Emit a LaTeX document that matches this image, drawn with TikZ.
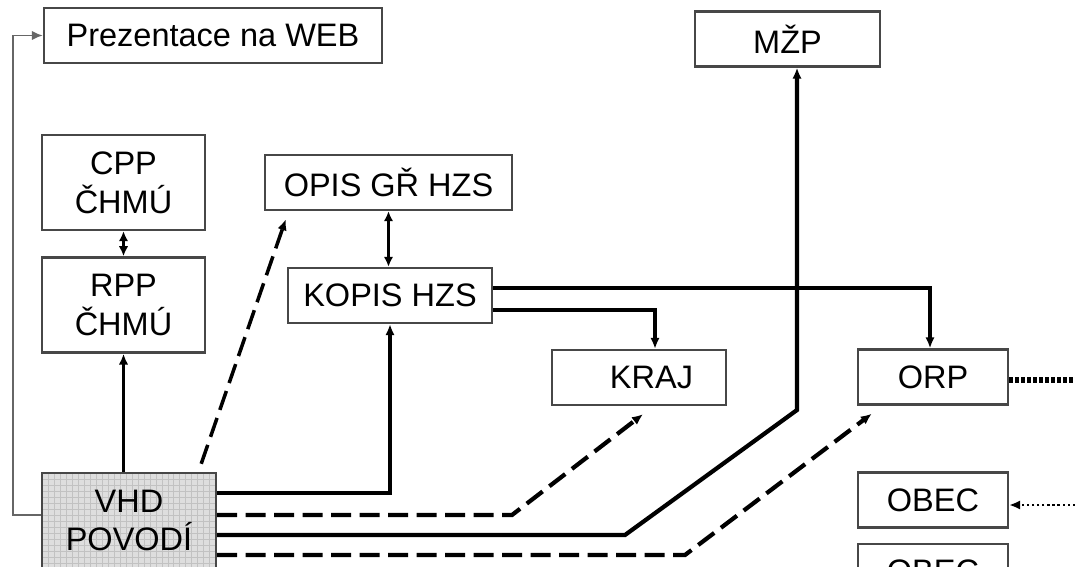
\documentclass[tikz,border=0pt]{standalone}
\usepackage{fontspec}
\setmainfont{Liberation Sans}
\usetikzlibrary{arrows.meta,positioning}
\tikzstyle{box} = [draw=black!72,line width=1.4pt,fill=white,inner sep=2pt,align=center,minimum height=1.1cm,font=\fontsize{18.5}{22}\selectfont]
\tikzstyle{tall} = [box,minimum height=1.9cm,minimum width=3.26cm]
\tikzstyle{link} = [black,line width=1.7pt,-{Latex[length=2.2mm,width=1.9mm]}]
\tikzstyle{heavy} = [link,line width=2.4pt]
\tikzstyle{weak} = [link,line width=2.4pt,dash pattern=on 0.4cm off 0.17cm]
\tikzstyle{back} = [link,draw=black!60,line width=1.1pt]
\tikzstyle{dots} = [black,line width=3pt,dash pattern=on 2.2pt off 1.2pt]
\tikzstyle{fine} = [link,line width=1.3pt,dash pattern=on 1.3pt off 1.6pt]

\begin{document}
\begin{tikzpicture}[x=0.02cm,y=-0.02cm]
			\useasboundingbox (0,0) rectangle (1075,567);
			
			\node[box,minimum width=6.76cm] (web) at (213,35.5) {Prezentace na WEB};
			\node[box,minimum width=3.7cm] (mzp) at (787.5,39) {MŽP};
			\node[tall] (cpp) at (123.5,182.5) {CPP\\ČHMÚ};
			\node[tall,below=0.5cm of cpp] (rpp) {RPP\\ČHMÚ};
			\node[box,minimum width=4.94cm] (opis) at (388.5,182.5) {OPIS GŘ HZS};
			\node[box,minimum width=4.08cm] (kopis) at (390,295.5) {KOPIS HZS};
			\node[box,minimum width=3.48cm] (kraj) at (639,377.5) {\hspace{0.5cm}KRAJ};
			\node[box,minimum width=3cm] (orp) at (933,377) {ORP};
			\node[box,minimum width=3cm] (obec) at (933,500) {OBEC};
			\node[box,minimum width=3cm,below=0.28cm of obec] (obec2) {OBEC};
			\node[tall,minimum width=3.48cm,fill=black!13,
				path picture={\draw[step=0.12cm,black!24,line width=0.3pt] (path picture bounding box.south west) grid (path picture bounding box.north east);}]
				(vhd) at (129,520.5) {VHD\\POVODÍ};
			
			\coordinate (lp) at (13,0);
			\coordinate (r1) at (390,493);
			\coordinate (r2) at (512,515);
			\coordinate (r3) at (625,535);
			\coordinate (r4) at (685,555);
			\coordinate (k1) at (797,410);
			\coordinate (c1) at (930,288);
			\coordinate (c2) at (655,310);
			\coordinate (e1) at (1075,380);
			\coordinate (e2) at (1075,505);
			
			\draw[back] (vhd.west |- r2) -| (lp |- web) -- (web);
			\draw[link,{Latex[length=2mm,width=1.9mm]}-{Latex[length=2mm,width=1.9mm]}] (cpp) -- (rpp);
			\draw[link] (vhd.north -| rpp) -- (rpp);
			\draw[link,line width=1.9pt,{Latex[length=2mm,width=1.9mm]}-{Latex[length=2mm,width=1.9mm]}] (opis) -- (opis |- kopis.north);
			\draw[weak,line width=2pt] ([xshift=-0.32cm,yshift=0.16cm]vhd.north east) -- ([xshift=0.44cm,yshift=-0.16cm]opis.south west);
			
			\draw[heavy] (vhd.east |- r1) -| (r1 |- kopis.south);
			\draw[weak] (vhd.east |- r2) -- (r2) -- ([xshift=0.08cm,yshift=-0.16cm]kraj.south);
			\draw[heavy] (vhd.east |- r3) -- (r3) -- (k1) -- (k1 |- mzp.south);
			\draw[weak] (vhd.east |- r4) -- (r4) -- ([xshift=0.3cm,yshift=-0.16cm]orp.south west);
			
			\draw[heavy] (kopis.east |- c1) -| (c1 |- orp.north);
			\draw[heavy] (kopis.east |- c2) -| (c2 |- kraj.north);
			
			\draw[dots] (orp.east |- e1) -- (e1);
			\draw[fine] (e2) -- (obec.east |- e2);
\end{tikzpicture}
\end{document}
